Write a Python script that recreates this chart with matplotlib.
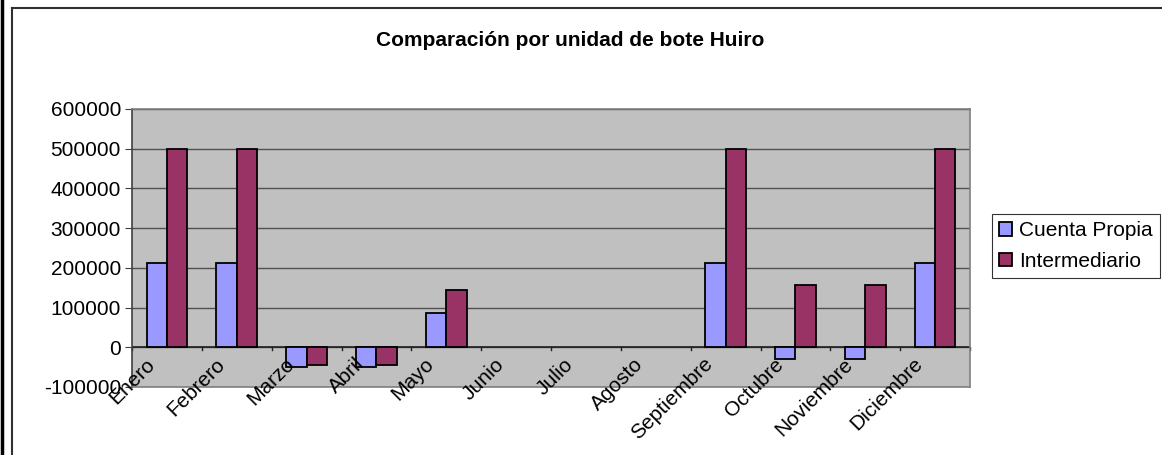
import matplotlib
matplotlib.use("Agg")
import matplotlib.pyplot as plt
import numpy as np
from matplotlib.lines import Line2D

plt.rcParams['font.family'] = ['Liberation Sans', 'DejaVu Sans']

meses = ['Enero', 'Febrero', 'Marzo', 'Abril', 'Mayo', 'Junio', 'Julio',
         'Agosto', 'Septiembre', 'Octubre', 'Noviembre', 'Diciembre']
cuenta_propia = [212000, 212000, -50000, -50000, 86000, 0, 0, 0,
                 212000, -30000, -30000, 212000]
intermediario = [500000, 500000, -45000, -45000, 143000, 0, 0, 0,
                 500000, 158000, 158000, 500000]
series = ['Cuenta Propia', 'Intermediario']
colores = ['#9999FF', '#993366']
y_ticks = [-100000, 0, 100000, 200000, 300000, 400000, 500000, 600000]

W, H = 1162, 455
fig = plt.figure(figsize=(W / 100, H / 100), dpi=100)
ax = fig.add_axes([132 / W, 1 - 387 / H, (970 - 132) / W, (387 - 109) / H])
ax.set_facecolor('#C0C0C0')

x = np.arange(len(meses))
ancho = 0.29
for i, (vals, col, nom) in enumerate(zip([cuenta_propia, intermediario], colores, series)):
    v = np.array(vals, dtype=float)
    m = v != 0
    ax.bar(x[m] + (i - 0.5) * ancho, v[m], width=ancho, color=col,
           edgecolor='black', linewidth=1.3, label=nom, zorder=3)

ax.set_xlim(-0.5, len(meses) - 0.5)
ax.set_ylim(y_ticks[0], y_ticks[-1])
ax.set_yticks(y_ticks)
ax.set_yticklabels([str(t) for t in y_ticks], fontsize=15)
ax.tick_params(axis='y', length=5, color='#404040', pad=3)
ax.yaxis.grid(True, color='#505050', linewidth=1.0, zorder=1)
ax.set_axisbelow(True)

for s in ['top', 'right', 'bottom']:
    ax.spines[s].set_color('#808080')
    ax.spines[s].set_linewidth(1.2)
ax.spines['left'].set_color('#404040')
ax.spines['left'].set_linewidth(1.2)

# category axis crosses at zero
ax.set_xticks([])
ax.axhline(0, color='#202020', linewidth=1.2, zorder=2)
for b in np.arange(len(meses) + 1) - 0.5:
    ax.plot([b, b], [0, -8000], color='#202020', linewidth=1.0,
            zorder=2, clip_on=False)
for i, mes in enumerate(meses):
    ax.annotate(mes, xy=(i, 0), xytext=(-11, -10), textcoords='offset points',
                rotation=45, rotation_mode='anchor', ha='right', va='center',
                fontsize=15, zorder=4)

fig.text(570 / W, 1 - 40 / H, 'Comparación por unidad de bote Huiro',
         ha='center', va='center', fontsize=15, fontweight='bold')

leg = ax.legend(loc='center left', bbox_to_anchor=(992 / W, 1 - 246 / H),
                bbox_transform=fig.transFigure, fontsize=15, frameon=True,
                fancybox=False, edgecolor='black', handlelength=0.6,
                handleheight=0.6, handletextpad=0.35, borderpad=0.35,
                labelspacing=0.55, borderaxespad=0)
leg.get_frame().set_linewidth(0.8)

# chart frame
fig.add_artist(Line2D([1.5 / W, 1.5 / W], [0, 1], color='black', linewidth=2.5))
fig.add_artist(Line2D([11.5 / W, 11.5 / W], [0, 1 - 8 / H], color='#303030', linewidth=1.5))
fig.add_artist(Line2D([11.5 / W, 1], [1 - 8 / H, 1 - 8 / H], color='#303030', linewidth=1.5))

fig.savefig('out.png', dpi=100)
